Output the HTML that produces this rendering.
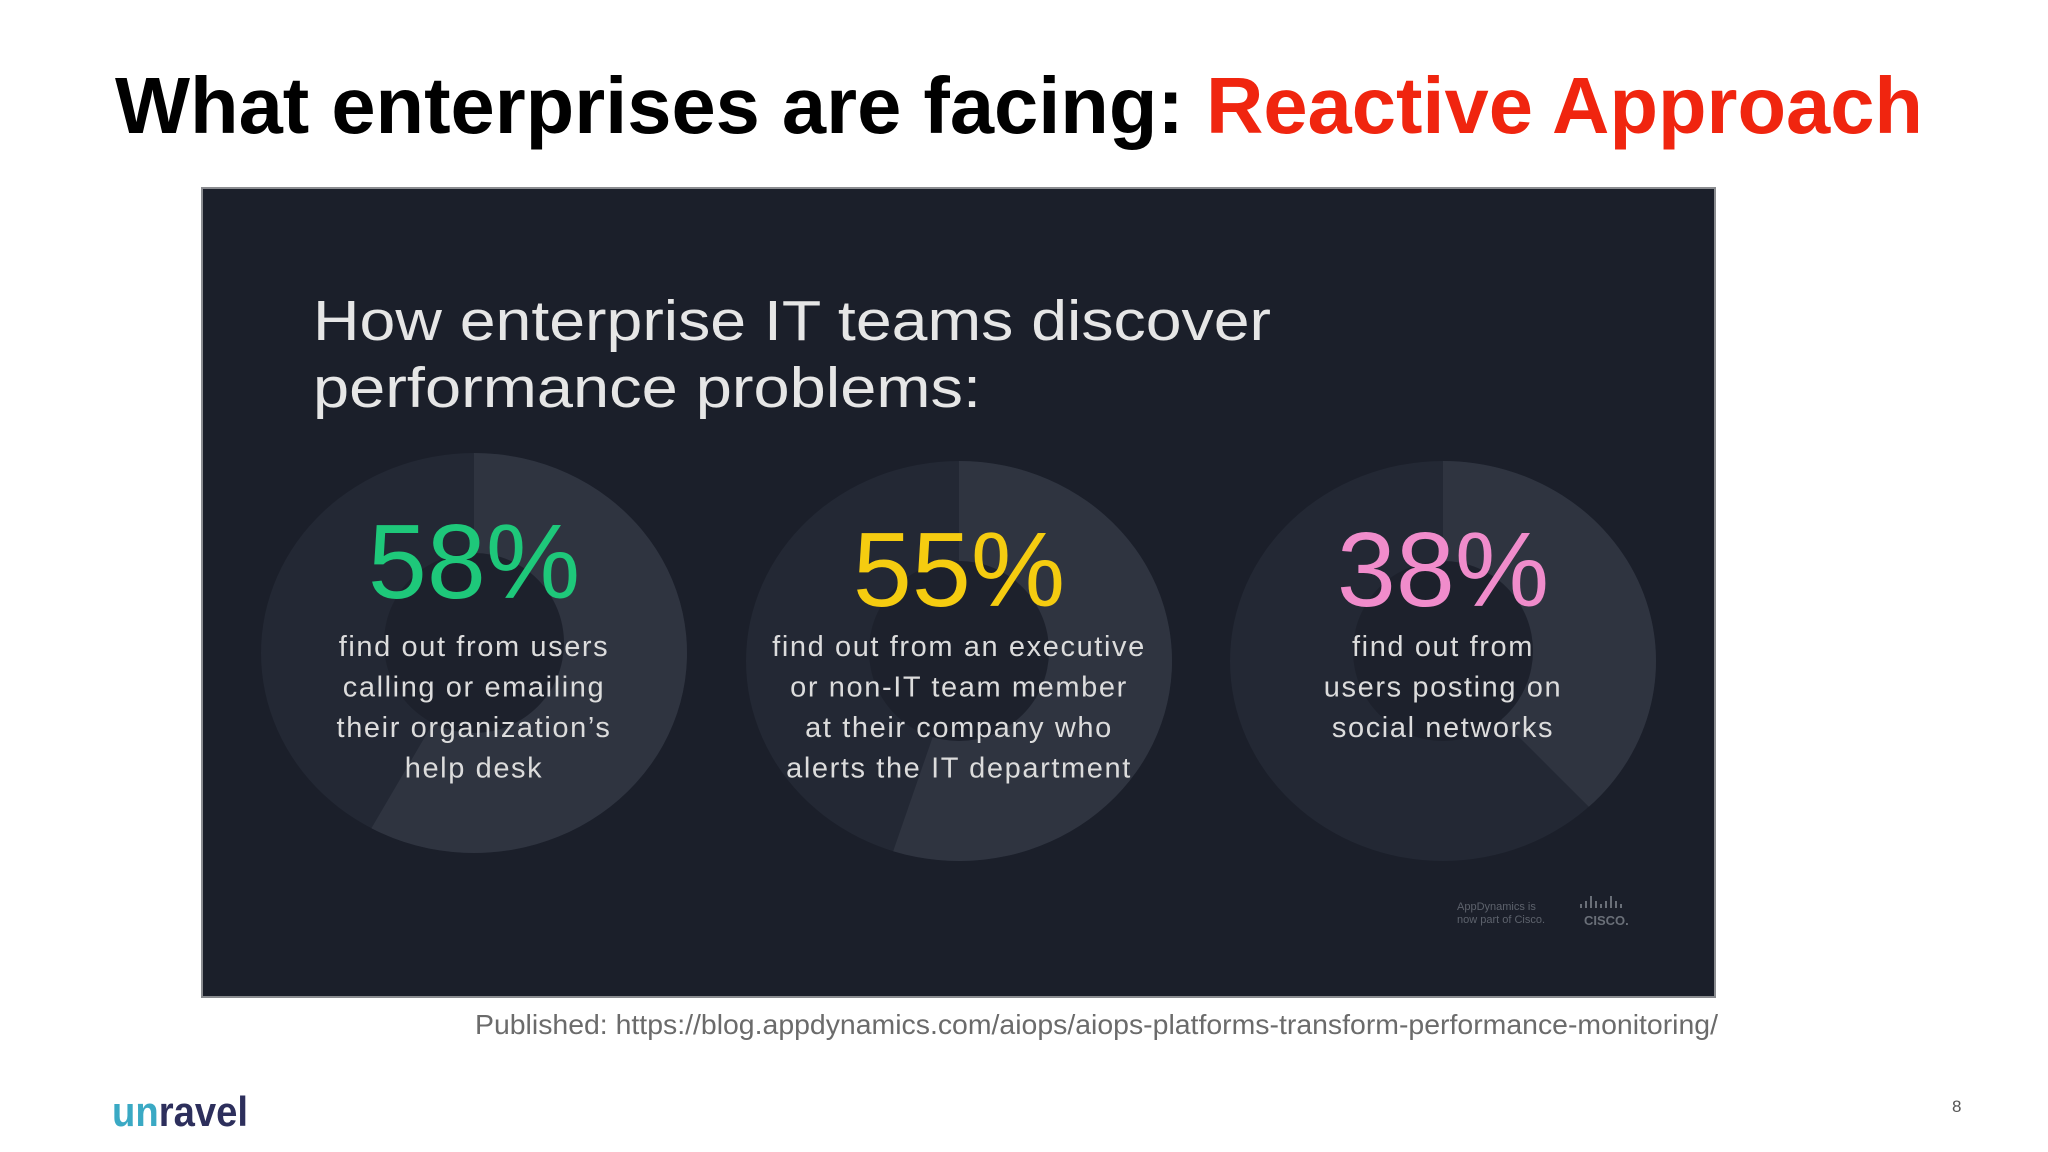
<!DOCTYPE html>
<html><head><meta charset="utf-8"><style>
html,body{margin:0;padding:0;background:#fff;}
svg{display:block;}
</style></head><body>
<svg id="slide" width="2048" height="1152" viewBox="0 0 2048 1152" xmlns="http://www.w3.org/2000/svg" font-family="Liberation Sans, sans-serif">
  <rect width="2048" height="1152" fill="#ffffff"/>
  <text x="115" y="133" font-size="80" font-weight="bold" fill="#000" textLength="1808" lengthAdjust="spacingAndGlyphs">What enterprises are facing: <tspan fill="#f0250f">Reactive Approach</tspan></text>
  <rect x="202" y="188" width="1513" height="809" fill="#1b1f2a" stroke="#8a8c90" stroke-width="2"/>
  <text x="313" y="340" font-size="57" fill="#e6e6e6" textLength="958" lengthAdjust="spacingAndGlyphs">How enterprise IT teams discover</text>
  <text x="313" y="407" font-size="57" fill="#e6e6e6" textLength="668" lengthAdjust="spacingAndGlyphs">performance problems:</text>
  <g id="donuts"></g>
  <text x="1457" y="910" font-size="11" fill="#5d626c">AppDynamics is</text>
  <text x="1457" y="923" font-size="11" fill="#5d626c">now part of Cisco.</text>
  <g fill="#6a6f78">
    <rect x="1580" y="904" width="2" height="4"/><rect x="1585" y="901" width="2" height="7"/><rect x="1590" y="896" width="2" height="12"/><rect x="1595" y="901" width="2" height="7"/><rect x="1600" y="904" width="2" height="4"/><rect x="1605" y="901" width="2" height="7"/><rect x="1610" y="896" width="2" height="12"/><rect x="1615" y="901" width="2" height="7"/><rect x="1620" y="904" width="2" height="4"/>
    <text x="1584" y="925" font-size="13" font-weight="bold">CISCO.</text>
  </g>
  <text x="475" y="1034" font-size="28" fill="#6b6b6b" textLength="1243" lengthAdjust="spacingAndGlyphs">Published: https://blog.appdynamics.com/aiops/aiops-platforms-transform-performance-monitoring/</text>
  <text x="112" y="1126" font-size="42" font-weight="bold" fill="#2d2f5c" textLength="136" lengthAdjust="spacingAndGlyphs"><tspan fill="#3aa9c4">un</tspan>ravel</text>
  <text x="1952" y="1112" font-size="17" fill="#555">8</text>
</svg>
<script>
const categories = ["users-help-desk", "executive-non-it", "social-networks"];
const percentValues = [58, 55, 38];
const percentColors = ["#1ec87a", "#f5cc10", "#f08ccb"];
const descriptions = [
  ["find out from users", "calling or emailing", "their organization\u2019s", "help desk"],
  ["find out from an executive", "or non-IT team member", "at their company who", "alerts the IT department"],
  ["find out from", "users posting on", "social networks"]
];
const NS = "http://www.w3.org/2000/svg";
const g = document.getElementById("donuts");
const centersX = [474, 959, 1443];
const centersY = [653, 661, 661];
const RX = 213, RY = 200;
function angleToPoint(cx, cy, frac) {
  const a = frac * 2 * Math.PI;
  return [cx + RX * Math.sin(a), cy - RY * Math.cos(a)];
}
percentValues.forEach((v, i) => {
  const cx = centersX[i], cy = centersY[i];
  const base = document.createElementNS(NS, "ellipse");
  
  
  base.setAttribute("cx", cx); base.setAttribute("cy", cy); base.setAttribute("rx", RX); base.setAttribute("ry", RY);
  base.setAttribute("fill", "#232834");
  g.appendChild(base);
  const frac = v / 100;
  const [x, y] = angleToPoint(cx, cy, frac);
  const large = frac > 0.5 ? 1 : 0;
  const p = document.createElementNS(NS, "path");
  
  
  p.setAttribute("d", `M${cx},${cy} L${cx},${cy - RY} A${RX},${RY} 0 ${large} 1 ${x},${y} Z`);
  p.setAttribute("fill", "#2f3440");
  g.appendChild(p);
  const hole = document.createElementNS(NS, "circle");
  
  
  hole.setAttribute("cx", cx); hole.setAttribute("cy", cy - 10); hole.setAttribute("r", 90);
  hole.setAttribute("fill", "#1d212c");
  g.appendChild(hole);
  const t = document.createElementNS(NS, "text");
  
  
  t.setAttribute("x", cx); t.setAttribute("y", cy - 55);
  t.setAttribute("text-anchor", "middle");
  t.setAttribute("font-size", "106");
  t.setAttribute("fill", percentColors[i]);
  t.textContent = v + "%";
  g.appendChild(t);
  descriptions[i].forEach((line, j) => {
    const d = document.createElementNS(NS, "text");
    
    
    d.setAttribute("x", cx); d.setAttribute("y", 656 + j * 40.5);
    d.setAttribute("text-anchor", "middle");
    d.setAttribute("font-size", "29");
    d.setAttribute("letter-spacing", "1.6");
    d.setAttribute("fill", "#dcdcdc");
    d.textContent = line;
    g.appendChild(d);
  });
});
</script>
</body></html>
